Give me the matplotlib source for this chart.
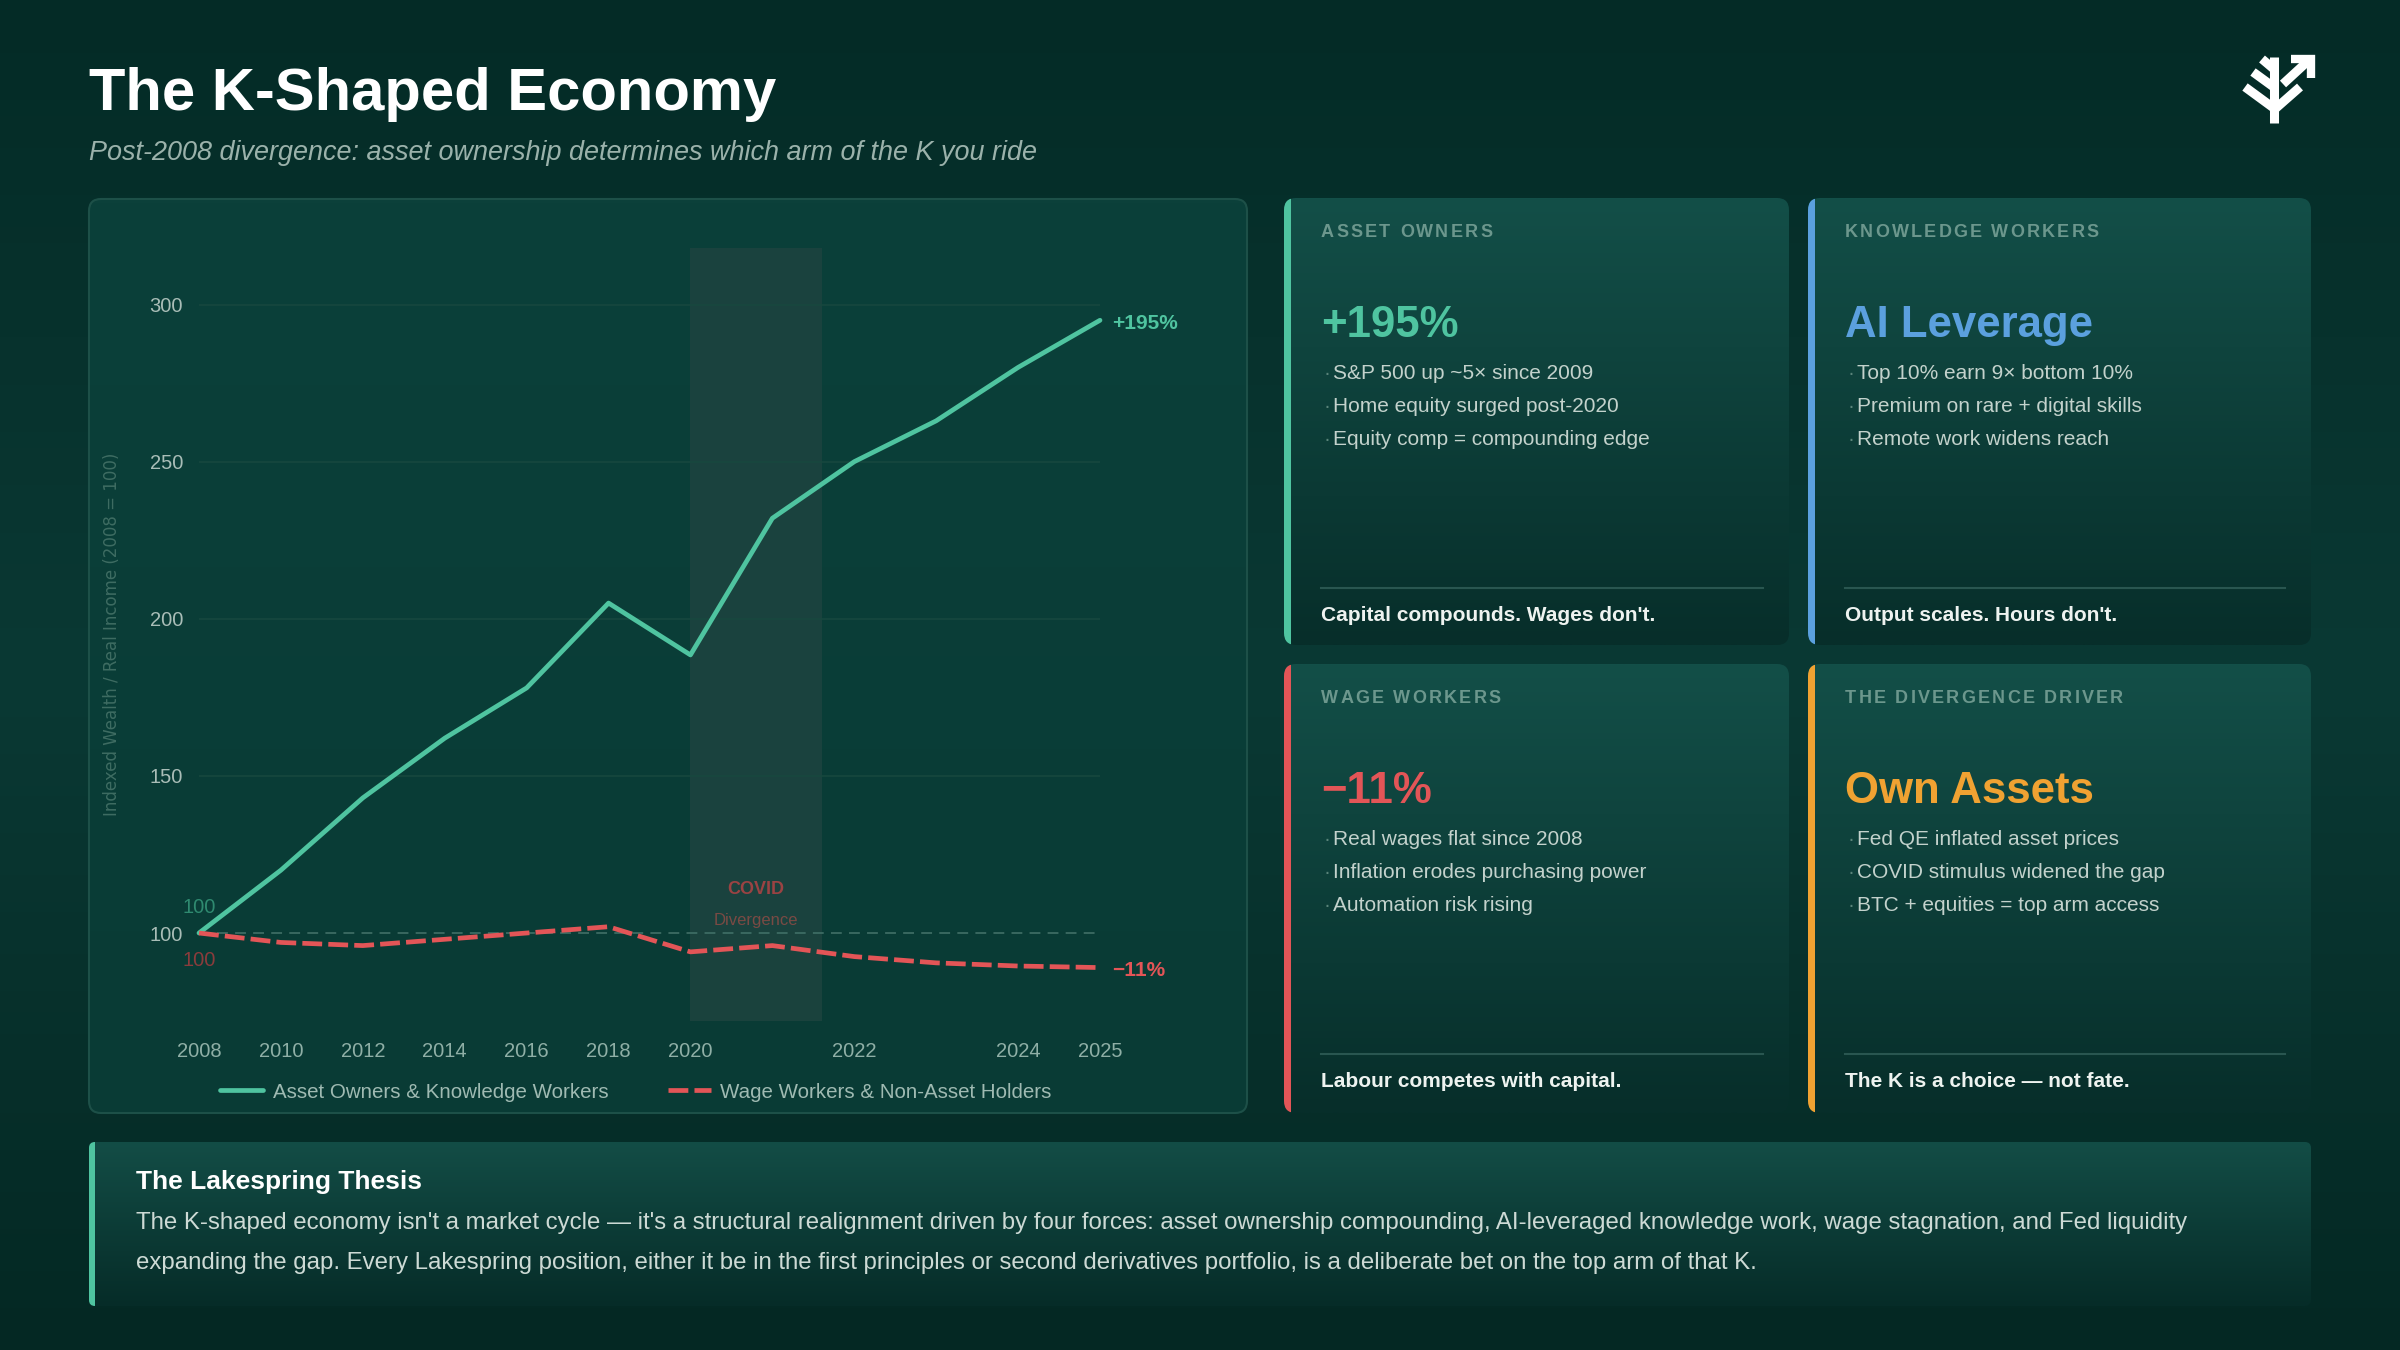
import numpy as np
import matplotlib
matplotlib.use('Agg')
import matplotlib.pyplot as plt
from matplotlib.patches import FancyBboxPatch, Rectangle
from matplotlib.colors import LinearSegmentedColormap

plt.rcParams['font.family'] = ['Liberation Sans', 'DejaVu Sans']

# ---- data ----
years = ['2008', '2010', '2012', '2014', '2016', '2018', '2020', '2021', '2022', '2023', '2024', '2025']
hidden_years = ['2021', '2023']
asset_owners = [100, 120, 143, 162, 178, 205, 188.5, 232, 250, 263, 280, 295]
wage_workers = [100, 97, 96, 98, 100, 102, 94, 96, 92.5, 90.5, 89.5, 89]
y_ticks = [100, 150, 200, 250, 300]
covid_from = '2020'
covid_width = 1.6   # in year-slots

card_titles = ['ASSET OWNERS', 'KNOWLEDGE WORKERS', 'WAGE WORKERS', 'THE DIVERGENCE DRIVER']
card_values = ['+195%', 'AI Leverage', '\u221211%', 'Own Assets']
card_bullets = [
    ['S&P 500 up ~5\u00d7 since 2009', 'Home equity surged post-2020', 'Equity comp = compounding edge'],
    ['Top 10% earn 9\u00d7 bottom 10%', 'Premium on rare + digital skills', 'Remote work widens reach'],
    ['Real wages flat since 2008', 'Inflation erodes purchasing power', 'Automation risk rising'],
    ['Fed QE inflated asset prices', 'COVID stimulus widened the gap', 'BTC + equities = top arm access'],
]
card_footers = ["Capital compounds. Wages don't.", "Output scales. Hours don't.",
                'Labour competes with capital.', 'The K is a choice \u2014 not fate.']

thesis_title = 'The Lakespring Thesis'
thesis_lines = [
    "The K-shaped economy isn't a market cycle \u2014 it's a structural realignment driven by four forces: "
    "asset ownership compounding, AI-leveraged knowledge work, wage stagnation, and Fed liquidity",
    'expanding the gap. Every Lakespring position, either it be in the first principles or second '
    'derivatives portfolio, is a deliberate bet on the top arm of that K.',
]

GREEN = '#4fc4a0'
RED = '#e35557'
BLUE = '#5ba0de'
ORANGE = '#f0a232'
card_colors = [GREEN, BLUE, RED, ORANGE]

W, H = 2400, 1350
fig = plt.figure(figsize=(24, 13.5), dpi=100)

# background layer in pixel coordinates
bg = fig.add_axes([0, 0, 1, 1])
bg.set_zorder(0)
grad = np.linspace(0, 1, 256).reshape(-1, 1)
bg.imshow(grad, extent=[0, W, H, 0], aspect='auto', zorder=0,
          cmap=LinearSegmentedColormap.from_list('bg', ['#042b26', '#0a3934', '#042823']))


def panel(x0, y0, x1, y1, r, c_top, c_bot, edge='none', accent=None, accent_w=7):
    box = FancyBboxPatch((x0, y0), x1 - x0, y1 - y0, boxstyle=f'round,pad=0,rounding_size={r}',
                         fc='none', ec=edge, lw=1.5, zorder=3)
    bg.add_patch(box)
    im = bg.imshow(grad, extent=[x0, x1, y1, y0], aspect='auto', zorder=1,
                   cmap=LinearSegmentedColormap.from_list('', [c_top, c_bot]))
    im.set_clip_path(box)
    if accent:
        bar = Rectangle((x0, y0), accent_w, y1 - y0, fc=accent, ec='none', zorder=2)
        bg.add_patch(bar)
        bar.set_clip_path(box)


renderer = fig.canvas.get_renderer()


def spaced(x, y, s, tracking, **kw):
    for ch in s:
        if ch == ' ':
            x += kw['fontsize'] * 100 / 72 * 0.28 + tracking
            continue
        t = bg.text(x, y, ch, **kw)
        x += t.get_window_extent(renderer).width + tracking


# title
bg.text(89, 110, 'The K-Shaped Economy', fontsize=43, weight='bold', color='white', va='baseline')
bg.text(89, 160, 'Post-2008 divergence: asset ownership determines which arm of the K you ride',
        fontsize=19.45, style='italic', color='#9bb2ab', va='baseline')

# logo
logo = [((2274, 57), (2274, 123)), ((2262, 59), (2275, 70)), ((2253, 72), (2275, 88)),
        ((2245, 87), (2275, 109)), ((2275, 109), (2300, 87)), ((2283, 84), (2308, 61))]
for (a, b) in logo:
    bg.plot([a[0], b[0]], [a[1], b[1]], color='white', lw=6.5, solid_capstyle='butt', zorder=5)
bg.plot([2291, 2311, 2311], [59, 59, 78], color='white', lw=6, solid_capstyle='butt',
        solid_joinstyle='miter', zorder=5)

# chart panel
panel(89, 199, 1247, 1113, 12, '#0b403a', '#093b35', edge='#1d5048')

# cards
card_boxes = [(1284, 198, 1789, 645), (1808, 198, 2311, 645),
              (1284, 664, 1789, 1113), (1808, 664, 2311, 1113)]
for i, (x0, y0, x1, y1) in enumerate(card_boxes):
    panel(x0, y0, x1, y1, 12, '#134f48', '#072e2a', accent=card_colors[i])
    tx = x0 + 37
    spaced(tx, y0 + 39, card_titles[i], 2.2, fontsize=13, weight='bold', color='#6c978d',
           va='baseline', zorder=6)
    bg.text(tx, y0 + 139, card_values[i], fontsize=31.5, weight='bold', color=card_colors[i],
            va='baseline', zorder=6)
    for j, b in enumerate(card_bullets[i]):
        yy = y0 + 181 + 33 * j
        bg.text(tx + 2, yy, '\u00b7', fontsize=15, color='#5a847a', va='baseline', zorder=6)
        bg.text(tx + 12, yy, b, fontsize=15, color='#c3d2cc', va='baseline', zorder=6)
    bg.plot([tx, x1 - 26], [y0 + 390] * 2, color='#295650', lw=1.5, zorder=6)
    bg.text(tx, y0 + 423, card_footers[i], fontsize=15, weight='bold', color='#eef3f0',
            va='baseline', zorder=6)

# thesis banner
panel(89, 1142, 2311, 1306, 6, '#134d46', '#062c28', accent=GREEN, accent_w=6)
bg.text(136, 1189, thesis_title, fontsize=19, weight='bold', color='white', va='baseline', zorder=6)
for j, line in enumerate(thesis_lines):
    bg.text(136, 1229 + 40 * j, line, fontsize=17.3, color='#cddad5', va='baseline', zorder=6)

# y axis title
bg.text(112, 634, 'Indexed Wealth / Real Income (2008 = 100)', rotation=90, ha='center', va='center',
        fontsize=12, color='#3e6c62', family='DejaVu Sans', zorder=6)

bg.set_xlim(0, W)
bg.set_ylim(H, 0)
bg.axis('off')

# ---- line chart ----
ax = fig.add_axes([199 / W, 1 - 1021 / H, 901 / W, (1021 - 248) / H])
ax.set_zorder(3)
ax.patch.set_visible(False)
x = np.arange(len(years))
c0 = years.index(covid_from)
ax.axvspan(c0, c0 + covid_width, color='#1c433f', alpha=0.9, lw=0, zorder=0.5)
for yv in y_ticks:
    if yv == 100:
        ax.axhline(yv, color='#3d6b63', lw=1.3, dashes=(6, 4), zorder=1)
    else:
        ax.axhline(yv, color='#18483f', lw=1.1, zorder=1)

ax.plot(x, asset_owners, color=GREEN, lw=3.4, solid_joinstyle='round', solid_capstyle='round',
        label='Asset Owners & Knowledge Workers', zorder=4, clip_on=False)
ax.plot(x, wage_workers, color=RED, lw=3.4, dashes=(4.2, 1.3), dash_capstyle='butt',
        label='Wage Workers & Non-Asset Holders', zorder=4, clip_on=False)

ax.set_xlim(0, len(years) - 1)
ax.set_ylim(72, 318)
ax.set_xticks(x)
ax.set_xticklabels(['' if yr in hidden_years else yr for yr in years])
ax.set_yticks(y_ticks)
ax.tick_params(axis='x', length=0, pad=15, labelsize=14.5, labelcolor='#8fafa6')
ax.tick_params(axis='y', length=0, pad=11.5, labelsize=14.5, labelcolor='#a9bdb7')
for s in ax.spines.values():
    s.set_visible(False)

# start / end labels
ax.annotate(f'{asset_owners[0]:.0f}', xy=(0, asset_owners[0]), xytext=(0, 18.5), textcoords='offset points',
            ha='center', va='center', fontsize=14.5, color='#2f8a70')
ax.annotate(f'{wage_workers[0]:.0f}', xy=(0, wage_workers[0]), xytext=(0, -20), textcoords='offset points',
            ha='center', va='center', fontsize=14.5, color='#8a3c3c')
g = (asset_owners[-1] / asset_owners[0] - 1) * 100
r = (wage_workers[-1] / wage_workers[0] - 1) * 100
ax.annotate(f'+{g:.0f}%', xy=(x[-1], asset_owners[-1]), xytext=(9, -2), textcoords='offset points',
            ha='left', va='center', fontsize=15, weight='bold', color=GREEN, annotation_clip=False)
ax.annotate(f'\u2212{abs(r):.0f}%', xy=(x[-1], wage_workers[-1]), xytext=(9, -2), textcoords='offset points',
            ha='left', va='center', fontsize=15, weight='bold', color=RED, annotation_clip=False)

ax.text(c0 + 0.8, 112.5, 'COVID', ha='center', va='baseline', fontsize=13, weight='bold', color='#9a4343')
ax.text(c0 + 0.8, 102.5, 'Divergence', ha='center', va='baseline', fontsize=12, color='#7a4a44')

ax.legend(loc='center', bbox_to_anchor=(636 / W, 1 - 1092 / H), bbox_transform=fig.transFigure,
          ncol=2, frameon=False, fontsize=14.8, labelcolor='#9fbab2', handlelength=2.1,
          handletextpad=0.45, columnspacing=2.9)

fig.savefig('out.png', dpi=100)
